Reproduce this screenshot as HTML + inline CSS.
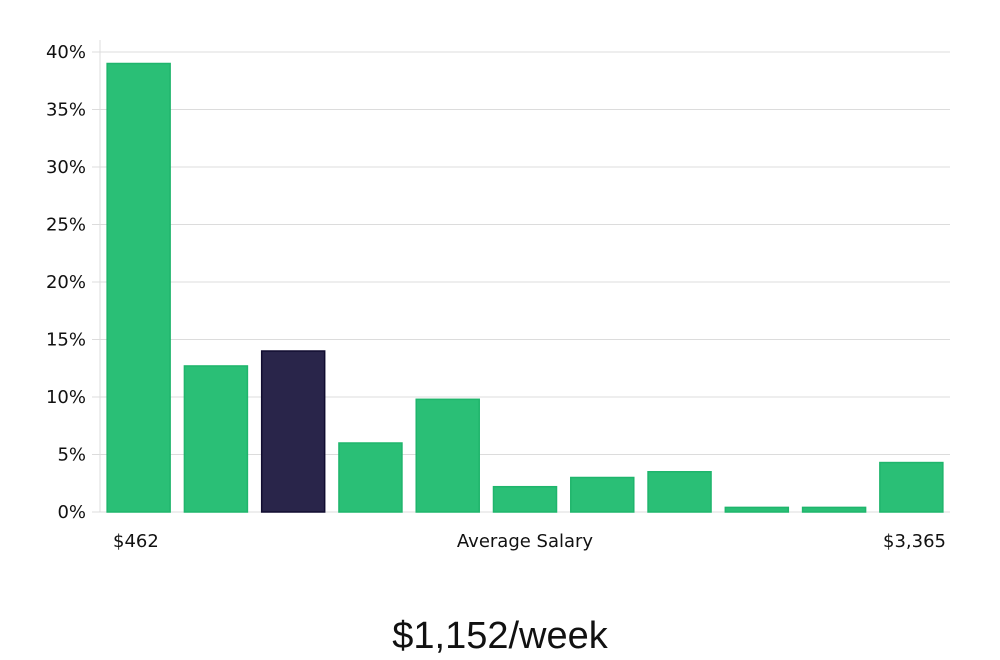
<!DOCTYPE html>
<html><head><meta charset="utf-8"><style>
html,body{margin:0;padding:0;background:#fff;width:1000px;height:660px;overflow:hidden;font-family:"DejaVu Sans","Liberation Sans",sans-serif}
</style></head><body>
<svg id="chart" width="1000" height="660" xmlns="http://www.w3.org/2000/svg"></svg>
<script>
const categories=["b1","b2","b3","b4","b5","b6","b7","b8","b9","b10","b11"];
const values=[39.0,12.7,14.0,6.0,9.8,2.2,3.0,3.5,0.4,0.4,4.3];
const highlight=[false,false,true,false,false,false,false,false,false,false,false];
const yTicks=[0,5,10,15,20,25,30,35,40];
const yTickLabels=["0%","5%","10%","15%","20%","25%","30%","35%","40%"];
const NS="http://www.w3.org/2000/svg";
const svg=document.getElementById("chart");
const X0=100,X1=950,Y0=512,Y1=52,YMAX=40;
const band=(X1-X0)/categories.length;
const y=v=>Y0-(v/YMAX)*(Y0-Y1);
const x=i=>X0+i*band;
function mk(t,a){const e=document.createElementNS(NS,t);for(const k in a)e.setAttribute(k,a[k]);svg.appendChild(e);return e;}
yTicks.forEach((t,i)=>{
  const g=mk("line",{x1:X0-8,x2:X1,y1:y(t),y2:y(t),stroke:"#dcdcdc","stroke-width":1});
  
  
  const l=mk("text",{x:X0-14,y:y(t)+6,"text-anchor":"end","font-size":18,fill:"#111"});
  l.textContent=yTickLabels[i];
  
  
});
const ax=mk("line",{x1:X0,x2:X0,y1:40,y2:Y0,stroke:"#dcdcdc","stroke-width":1});


values.forEach((v,i)=>{
  const bw=63;
  const r=mk("rect",{x:x(i)+(band-bw)/2,y:y(v),width:bw,height:Y0-y(v),fill:highlight[i]?"#29254a":"#2abf76",stroke:highlight[i]?"#100c30":"#1fb56c","stroke-width":1.5});
  
  
});
function txt(s,xx,yy,anchor,size,name,fam){const t=mk("text",{x:xx,y:yy,"text-anchor":anchor,"font-size":size,fill:"#111"});if(fam)t.setAttribute("font-family",fam);t.textContent=s;return t;}
txt("$462",113,547,"start",18,"x-min-label");
txt("Average Salary",525,547,"middle",18,"x-axis-title");
txt("$3,365",946,547,"end",18,"x-max-label");
txt("$1,152/week",500,648,"middle",38,"average-salary-value","'Liberation Sans',sans-serif");
</script>
</body></html>
